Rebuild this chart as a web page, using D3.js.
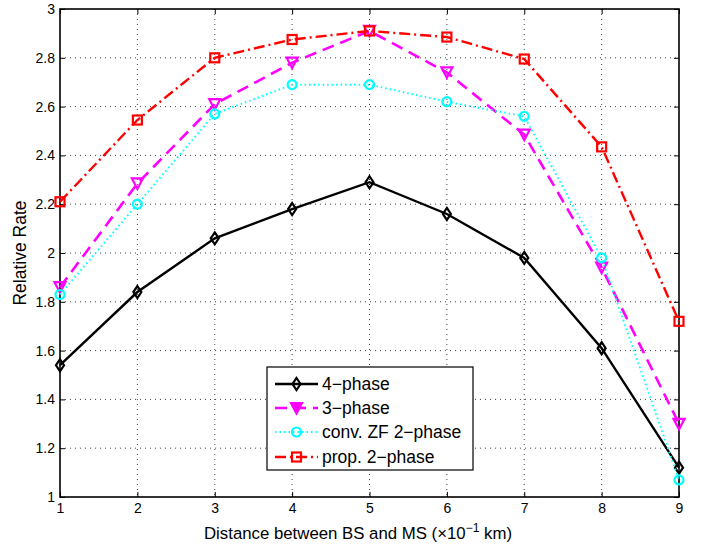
<!DOCTYPE html>
<html><head><meta charset="utf-8">
<script src="https://cdn.jsdelivr.net/npm/d3@7"></script>
<style>body{margin:0;background:#fff}svg{display:block}text{font-family:"Liberation Sans",Arial,sans-serif}</style>
</head><body><svg id="c" width="702" height="546"></svg>
<script>
const xs = [1,2,3,4,5,6,7,8,9];
const phase4 = [1.54,1.84,2.06,2.18,2.29,2.16,1.98,1.61,1.12];
const phase3 = [1.86,2.285,2.61,2.78,2.91,2.74,2.485,1.94,1.30];
const convZF = [1.83,2.20,2.57,2.69,2.69,2.62,2.56,1.98,1.07];
const prop2 = [2.21,2.545,2.80,2.875,2.91,2.885,2.795,2.435,1.72];
const seriesNames = ["4\u2212phase","3\u2212phase","conv. ZF 2\u2212phase","prop. 2\u2212phase"];
const xTicks = [1,2,3,4,5,6,7,8,9];
const yTicks = [1,1.2,1.4,1.6,1.8,2,2.2,2.4,2.6,2.8,3];

const svg = d3.select("#c");
const L=60,R=679,T=9,B=497;
const x = d3.scaleLinear().domain([1,9]).range([L,R]);
const y = d3.scaleLinear().domain([1,3]).range([B,T]);

// grid
const g = svg.append("g");
g.selectAll(".gx").data(xTicks.slice(1,-1)).enter().append("line")
 .attr("x1",d=>x(d)).attr("x2",d=>x(d)).attr("y1",T).attr("y2",B)
 .attr("stroke","#444").attr("stroke-width",1).attr("stroke-dasharray","1,4");
g.selectAll(".gy").data(yTicks.slice(1,-1)).enter().append("line")
 .attr("y1",d=>y(d)).attr("y2",d=>y(d)).attr("x1",L).attr("x2",R)
 .attr("stroke","#444").attr("stroke-width",1).attr("stroke-dasharray","1,4");

// axes
const fmt = d=>d3.format("~g")(d);
const ax = svg.append("g").attr("transform",`translate(0,${B})`).call(d3.axisBottom(x).tickValues(xTicks).tickSizeInner(-5).tickSizeOuter(0).tickPadding(6).tickFormat(fmt));
const axT = svg.append("g").attr("transform",`translate(0,${T})`).call(d3.axisTop(x).tickValues(xTicks).tickSizeInner(-5).tickSizeOuter(0).tickFormat(""));
const ay = svg.append("g").attr("transform",`translate(${L},0)`).call(d3.axisLeft(y).tickValues(yTicks).tickSizeInner(-5).tickSizeOuter(0).tickPadding(5).tickFormat(fmt));
const ayR = svg.append("g").attr("transform",`translate(${R},0)`).call(d3.axisRight(y).tickValues(yTicks).tickSizeInner(-5).tickSizeOuter(0).tickFormat(""));
[ax,axT,ay,ayR].forEach(a=>{
  a.selectAll(".domain").remove();
  a.selectAll("line").attr("stroke","#000").attr("stroke-width",1);
  a.selectAll("text").attr("font-size",14).attr("fill","#000").style("font-family","'Liberation Sans',Arial,sans-serif");
});
svg.append("rect").attr("x",L).attr("y",T).attr("width",R-L).attr("height",B-T)
 .attr("fill","none").attr("stroke","#000").attr("stroke-width",1.6);

// series
const series = [
 {vals:phase4,color:"#000",dash:null,w:2.4,marker:"diamond"},
 {vals:phase3,color:"#ff00ff",dash:"12,7",w:2.6,marker:"triangle"},
 {vals:convZF,color:"#00ffff",dash:"1.5,3",w:2,marker:"circle"},
 {vals:prop2,color:"#ff0000",dash:"11,4,2,4",w:2.4,marker:"square"}
];
const line = d3.line().x((d,i)=>x(xs[i])).y(d=>y(d));
function marker(sel,type,color){
  if(type==="diamond") sel.append("path").attr("d","M0,-6L4,0L0,6L-4,0Z");
  if(type==="triangle") sel.append("path").attr("d","M-5.5,-5L5.5,-5L0,5.5Z");
  if(type==="circle") sel.append("circle").attr("r",4.5);
  if(type==="square") sel.append("rect").attr("x",-4.5).attr("y",-4.5).attr("width",9).attr("height",9);
  sel.selectAll("*").attr("fill","none").attr("stroke",color).attr("stroke-width",2.2);
}
series.forEach(s=>{
  svg.append("path").datum(s.vals).attr("d",line).attr("fill","none")
   .attr("stroke",s.color).attr("stroke-width",s.w).attr("stroke-dasharray",s.dash);
  s.vals.forEach((v,i)=>{
    const m = svg.append("g").attr("transform",`translate(${x(xs[i])},${y(v)})`);
    marker(m,s.marker,s.color);
  });
});

// legend
const lg = svg.append("g");
lg.append("rect").attr("x",267).attr("y",367).attr("width",206).attr("height",103)
 .attr("fill","#fff").attr("stroke","#000").attr("stroke-width",1.2);
const ly=[384,408,432,457];
series.forEach((s,i)=>{
  lg.append("line").attr("x1",275).attr("x2",318).attr("y1",ly[i]).attr("y2",ly[i])
   .attr("stroke",s.color).attr("stroke-width",s.w).attr("stroke-dasharray",s.dash);
  const m = lg.append("g").attr("transform",`translate(296.5,${ly[i]})`);
  marker(m,s.marker,s.color);
  if(s.marker==="triangle") m.select("path").attr("fill",s.color);
  lg.append("text").attr("x",322).attr("y",ly[i]+6).attr("font-size",17.5).text(seriesNames[i]);
});

// labels
const xl = svg.append("text").attr("x",358).attr("y",539).attr("text-anchor","middle").attr("font-size",16.8);
xl.append("tspan").text("Distance between BS and MS (\u00d710");
xl.append("tspan").attr("dy",-7).attr("font-size",12).text("\u22121");
xl.append("tspan").attr("dy",7).text(" km)");
svg.append("text").attr("transform","translate(26,253) rotate(-90)").attr("text-anchor","middle").attr("font-size",17.5).text("Relative Rate");
</script></body></html>
